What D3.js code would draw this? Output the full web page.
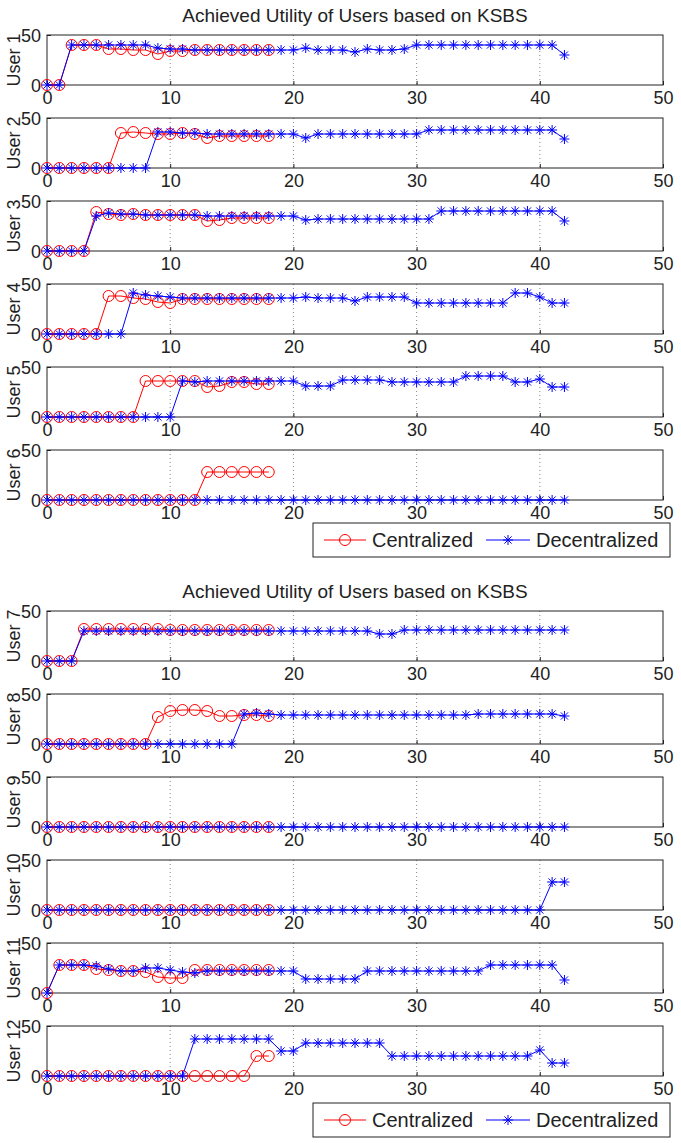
<!DOCTYPE html>
<html>
<head>
<meta charset="utf-8">
<script src="https://cdn.jsdelivr.net/npm/d3@7"></script>
<style>
    body { margin: 0; background: #fff; }
    text { font-family: 'Liberation Sans', Arial, Helvetica, sans-serif; fill: #222; }
</style>
</head>
<body>
<div id="chart"></div>
<script>
// Utility per iteration. Index = iteration number.
const c1 = [0,0,40,40,40,36,36,35,35,31,34,34,35,35,35,35,35,35,35];
const d1 = [0,0,40,40,40,40,40,40,40,37,36,36,35,35,35,35,35,35,35,35,35,37,35,35,35,33,36,35,35,36,40,40,40,40,40,40,40,40,40,40,40,40,30];
const c2 = [0,0,0,0,0,0,35,36,35,34,34,35,34,30,32,32,32,32,32];
const d2 = [0,0,0,0,0,0,0,0,0,36,36,35,35,34,34,34,34,34,34,34,34,30,34,34,34,34,34,34,34,34,34,38,38,38,38,38,38,38,38,38,38,38,29];
const c3 = [0,0,0,0,39,37,36,37,36,36,36,36,36,30,31,33,33,33,33];
const d3_ = [0,0,0,0,35,38,37,37,36,36,36,36,36,35,35,35,35,35,35,35,35,31,32,32,32,32,32,32,32,32,32,32,40,40,40,40,40,40,40,40,40,40,30];
const c4 = [0,0,0,0,0,38,38,36,35,32,31,35,35,35,35,35,35,35,35];
const d4 = [0,0,0,0,0,0,0,41,39,38,37,36,36,36,36,36,36,36,36,36,36,37,36,36,36,33,37,37,37,37,31,31,31,31,31,31,31,31,41,41,37,31,31];
const c5 = [0,0,0,0,0,0,0,0,36,36,36,36,36,30,31,35,35,33,33];
const d5 = [0,0,0,0,0,0,0,0,0,0,0,36,35,36,36,36,36,36,36,36,36,31,31,31,37,37,37,37,35,35,35,35,35,35,41,41,41,41,35,35,38,30,30];
const c6 = [0,0,0,0,0,0,0,0,0,0,0,0,0,28,28,28,28,28,28];
const d6 = [0,0,0,0,0,0,0,0,0,0,0,0,0,0,0,0,0,0,0,0,0,0,0,0,0,0,0,0,0,0,0,0,0,0,0,0,0,0,0,0,0,0,0];
const c7 = [0,0,0,32,32,32,32,32,32,32,31,31,31,31,31,31,31,31,31];
const d7 = [0,0,0,30,30,30,30,30,30,30,30,30,30,30,30,30,30,30,30,30,30,30,30,30,30,30,30,27,27,31,31,31,31,31,31,31,31,31,31,31,31,31,31];
const c8 = [0,0,0,0,0,0,0,0,0,27,33,34,34,33,28,28,29,29,28];
const d8 = [0,0,0,0,0,0,0,0,0,0,0,0,0,0,0,0,30,31,30,29,29,29,29,29,29,29,29,29,29,29,29,29,29,29,29,30,30,30,30,30,30,30,28];
const c9 = [0,0,0,0,0,0,0,0,0,0,0,0,0,0,0,0,0,0,0];
const d9 = [0,0,0,0,0,0,0,0,0,0,0,0,0,0,0,0,0,0,0,0,0,0,0,0,0,0,0,0,0,0,0,0,0,0,0,0,0,0,0,0,0,0,0];
const c10 = [0,0,0,0,0,0,0,0,0,0,0,0,0,0,0,0,0,0,0];
const d10 = [0,0,0,0,0,0,0,0,0,0,0,0,0,0,0,0,0,0,0,0,0,0,0,0,0,0,0,0,0,0,0,0,0,0,0,0,0,0,0,0,0,28,28];
const c11 = [0,28,28,28,24,23,22,22,21,16,15,15,23,23,23,23,23,23,23];
const d11 = [0,28,28,28,27,24,22,22,25,25,23,21,20,22,22,22,22,22,22,22,22,14,14,14,14,14,22,22,22,22,22,22,22,22,22,22,28,28,28,28,28,28,13];
const c12 = [0,0,0,0,0,0,0,0,0,0,0,0,0,0,0,0,0,20,20];
const d12 = [0,0,0,0,0,0,0,0,0,0,0,0,37,37,37,37,37,37,37,25,25,33,33,33,33,33,33,33,20,20,20,20,20,20,20,20,20,20,20,20,26,13,13];

const user_names = ['User 1','User 2','User 3','User 4','User 5','User 6',
                    'User 7','User 8','User 9','User 10','User 11','User 12'];
const centralized = [c1,c2,c3,c4,c5,c6,c7,c8,c9,c10,c11,c12];
const decentralized = [d1,d2,d3_,d4,d5,d6,d7,d8,d9,d10,d11,d12];
const x_ticks = [0,10,20,30,40,50];
const y_ticks = [0,50];
const grid_ticks = [10,20,30,40];
const series_names = ['Centralized','Decentralized'];
const title_text = 'Achieved Utility of Users based on KSBS';

const width = 681, height = 1143;
const dims = { left: 47, right: 663, plot_h: 50, step: 83 };
// two stacked figures, six users each
const groups = [
    { title_y: 22, top: 35, legend_y: 523, users: [0,1,2,3,4,5] },
    { title_y: 598, top: 611, legend_y: 1103, users: [6,7,8,9,10,11] },
];
const red = '#ff0000', blue = '#0000ff';
const font_size = 18;

const svg = d3.select('#chart').append('svg')
    .attr('width', width).attr('height', height);

const x = d3.scaleLinear().domain([0, 50]).range([dims.left, dims.right]);

function star(s) {
    const k = s * 0.72;
    return `M${-s},0L${s},0M0,${-s}L0,${s}M${-k},${-k}L${k},${k}M${-k},${k}L${k},${-k}`;
}

function draw_markers(g, pts, type, color) {
    if (type === 'circle') {
        g.selectAll('circle.m')
            .data(pts)
            .join('circle')
                .attr('class', 'm')
                .attr('cx', (d) => d[0]).attr('cy', (d) => d[1])
                .attr('r', 5.5)
                .attr('fill', 'none')
                .attr('stroke', color)
                .attr('stroke-width', 1);
    } else {
        g.selectAll('path.m')
            .data(pts)
            .join('path')
                .attr('class', 'm')
                .attr('transform', (d) => `translate(${d[0]},${d[1]})`)
                .attr('d', star(5))
                .attr('fill', 'none')
                .attr('stroke', color)
                .attr('stroke-width', 1);
    }
}

function draw_user(idx, top) {
    const y = d3.scaleLinear().domain([0, 50]).range([top + dims.plot_h, top]);
    const bottom = top + dims.plot_h;
    const g = svg.append('g');

    // dotted grid at 10..40
    g.selectAll('line.grid')
        .data(grid_ticks)
        .join('line')
            .attr('class', 'grid')
            .attr('x1', (d) => x(d)).attr('x2', (d) => x(d))
            .attr('y1', top).attr('y2', bottom)
            .attr('stroke', '#888')
            .attr('stroke-width', 1)
            .attr('stroke-dasharray', '1,3');

    // x axis (bottom) with small inward ticks
    const xa = g.append('g')
        .attr('transform', `translate(0,${bottom})`)
        .call(d3.axisBottom(x).tickValues(x_ticks).tickSize(-4));
    xa.select('.domain').remove();
    xa.selectAll('line').attr('stroke', '#222');
    xa.selectAll('text')
        .attr('font-size', font_size)
        .attr('y', 1)
        .attr('dy', '1em');

    const ya = g.append('g')
        .attr('transform', `translate(${dims.left},0)`)
        .call(d3.axisLeft(y).tickValues(y_ticks).tickSize(-4));
    ya.select('.domain').remove();
    ya.selectAll('line').attr('stroke', '#222');
    ya.selectAll('text')
        .attr('font-size', font_size)
        .attr('x', -6)
        .attr('dy', '0.35em');

    // box
    g.append('rect')
        .attr('x', dims.left).attr('y', top)
        .attr('width', dims.right - dims.left).attr('height', dims.plot_h)
        .attr('fill', 'none')
        .attr('stroke', '#222')
        .attr('stroke-width', 1);

    // y label
    g.append('text')
        .attr('transform', `translate(20,${top + dims.plot_h / 2}) rotate(-90)`)
        .attr('text-anchor', 'middle')
        .attr('font-size', font_size)
        .text(user_names[idx]);

    const line = d3.line()
        .x((d, i) => x(i))
        .y((d) => y(d));

    // centralized first, decentralized on top
    const cdata = centralized[idx];
    const ddata = decentralized[idx];
    g.append('path')
        .attr('d', line(cdata))
        .attr('fill', 'none').attr('stroke', red).attr('stroke-width', 1);
    draw_markers(g.append('g'), cdata.map((d, i) => [x(i), y(d)]), 'circle', red);

    g.append('path')
        .attr('d', line(ddata))
        .attr('fill', 'none').attr('stroke', blue).attr('stroke-width', 1);
    draw_markers(g.append('g'), ddata.map((d, i) => [x(i), y(d)]), 'star', blue);
}

function draw_legend(top) {
    const g = svg.append('g');
    g.append('rect')
        .attr('x', 313).attr('y', top)
        .attr('width', 357).attr('height', 34)
        .attr('fill', '#fff')
        .attr('stroke', '#222')
        .attr('stroke-width', 1);
    const cy = top + 17;
    const items = [
        { name: series_names[0], color: red, type: 'circle', x0: 324, x1: 366, tx: 372 },
        { name: series_names[1], color: blue, type: 'star', x0: 486, x1: 530, tx: 536 },
    ];
    items.forEach((it) => {
        g.append('line')
            .attr('x1', it.x0).attr('x2', it.x1)
            .attr('y1', cy).attr('y2', cy)
            .attr('stroke', it.color).attr('stroke-width', 1);
        draw_markers(g.append('g'), [[(it.x0 + it.x1) / 2, cy]], it.type, it.color);
        g.append('text')
            .attr('x', it.tx).attr('y', cy)
            .attr('dy', '0.35em')
            .attr('font-size', 20)
            .text(it.name);
    });
}

groups.forEach((grp) => {
    svg.append('text')
        .attr('x', (dims.left + dims.right) / 2)
        .attr('y', grp.title_y)
        .attr('text-anchor', 'middle')
        .attr('font-size', 19)
        .text(title_text);
    grp.users.forEach((u, i) => draw_user(u, grp.top + i * dims.step));
    draw_legend(grp.legend_y);
});
</script>
</body>
</html>
